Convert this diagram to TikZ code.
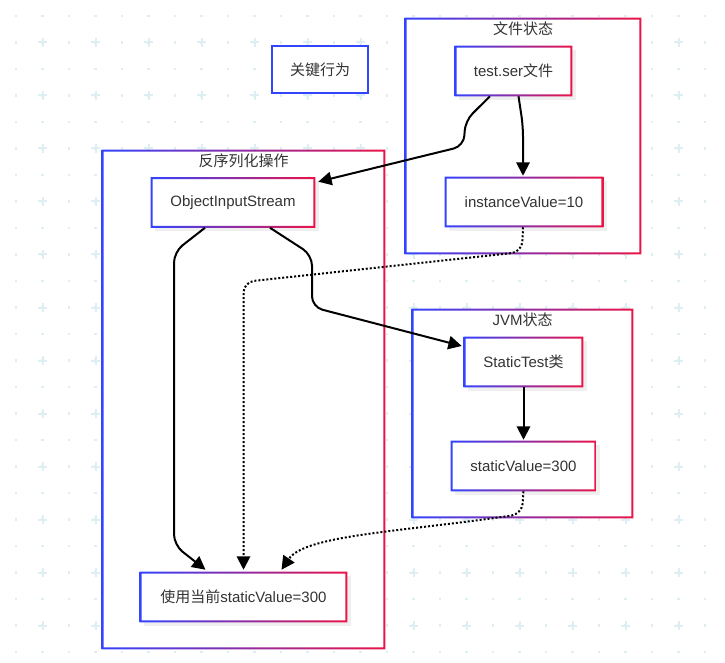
\documentclass[tikz,border=0pt]{standalone}
\usepackage{fontspec}
\setmainfont{Liberation Sans}
\newfontfamily\cjk{Noto Sans CJK SC}
\usepackage{tikz}
\usetikzlibrary{arrows.meta,positioning,calc,shadows}
\definecolor{gblue}{RGB}{51,68,255}
\definecolor{gred}{RGB}{235,20,72}
\definecolor{gridc}{RGB}{222,239,244}

\begin{document}
\begin{tikzpicture}[x=0.75pt, y=-0.75pt,
	every node/.style={font=\fontsize{11.25}{13.5}\selectfont, text=black!80},
	box/.style={fill=white, inner sep=0, align=center, minimum height=37.5pt},
	frame/.style={fill=white, inner sep=0},
	title/.style={inner sep=0},
	arr/.style={line width=1.5pt, -{Triangle[length=10pt,width=10pt]}, rounded corners=8},
	dotarr/.style={arr, dash pattern=on 1.5pt off 1.5pt}
]
\fill[white] (0,0) rectangle (725,663);
\useasboundingbox (0,0) rectangle (725,663);

% grid
\foreach \i in {0,...,26}
	\foreach \j in {0,...,24}
		\fill[gridc] ({16+26.5*\i-1.3},{16+26.5*\j-1.3}) rectangle ++(2.6,2.6);
\foreach \i in {1,3,...,25}
	\foreach \j in {1,3,...,23}
		\draw[gridc, line width=1.5pt] ({16+26.5*\i-4.5},{16+26.5*\j}) -- ++(9,0) ({16+26.5*\i},{16+26.5*\j-4.5}) -- ++(0,9);

% groups
\node[frame, minimum width=177pt, minimum height=177pt] (file) at (523,136) {};
\node[frame, minimum width=212.25pt, minimum height=374.25pt] (deser) at (243.5,399.5) {};
\node[frame, minimum width=165.75pt, minimum height=156.75pt] (jvm) at (522.5,413.5) {};
\node[title, below=3pt of file.north] (filet) {\cjk 文件状态};
\node[title, below=3pt of deser.north] (desert) {\cjk 反序列化操作};
\node[title, below=3pt of jvm.north] (jvmt) {JVM{\cjk 状态}};

% boxes
\node[box, draw=gblue, line width=1.5pt, minimum width=72pt, minimum height=35.25pt] (key) at (320,69.5) {\cjk 关键行为};
\node[box, minimum width=87.75pt, drop shadow={opacity=0.12}] (ser) at (513.5,71) {test.ser{\cjk 文件}};
\node[box, minimum width=118.5pt, drop shadow={opacity=0.12}] (inst) at (524,202) {instanceValue=10};
\node[box, minimum width=123pt, drop shadow={opacity=0.12}] (ois) at (233,202.5) {ObjectInputStream};
\node[box, minimum width=89.25pt, drop shadow={opacity=0.12}] (cls) at (523.5,362) {StaticTest{\cjk 类}};
\node[box, minimum width=108.75pt, drop shadow={opacity=0.12}] (sv) at (523.5,466) {staticValue=300};
\node[box, minimum width=155.25pt, drop shadow={opacity=0.12}] (use) at (243.5,597) {{\cjk 使用当前}staticValue=300};

% gradient borders
\foreach \n in {file,deser,jvm,ser,inst,ois,cls,sv,use}
	\shade[left color=gblue, right color=gred, even odd rule]
		(\n.south west) rectangle (\n.north east)
		([shift={(1.5pt,1.5pt)}]\n.south west) rectangle ([shift={(-1.5pt,-1.5pt)}]\n.north east);

% connectors
\draw[arr] ($(ser.south)+(-23.5,0)$) -- (465,121) -- (464,146) -- ($(ois.north east)+(3,4.5)$);
\draw[arr] ($(ser.south)+(5,0)$) -- (523,126) -- ($(inst.north)+(-1,-1)$);
\draw[dotarr] ($(inst.south)+(-1,0)$) -- (522,252) -- (243.5,282) -- ($(use.north)+(0,-2)$);
\draw[arr] ($(ois.south)+(-28,0)$) -- (174,252) -- (174,545) -- ($(use.north)+(-38,-2)$);
\draw[arr] ($(ois.south)+(37,0)$) -- (312,255) -- (312,307) -- ($(cls.west)+(-2,-16)$);
\draw[arr] (cls.south) -- ($(sv.north)+(0,-1)$);
\draw[dotarr] (sv.south) -- (522,514) .. controls (400,532) and (305,535) .. ($(use.north)+(38,-2)$);
\end{tikzpicture}
\end{document}
